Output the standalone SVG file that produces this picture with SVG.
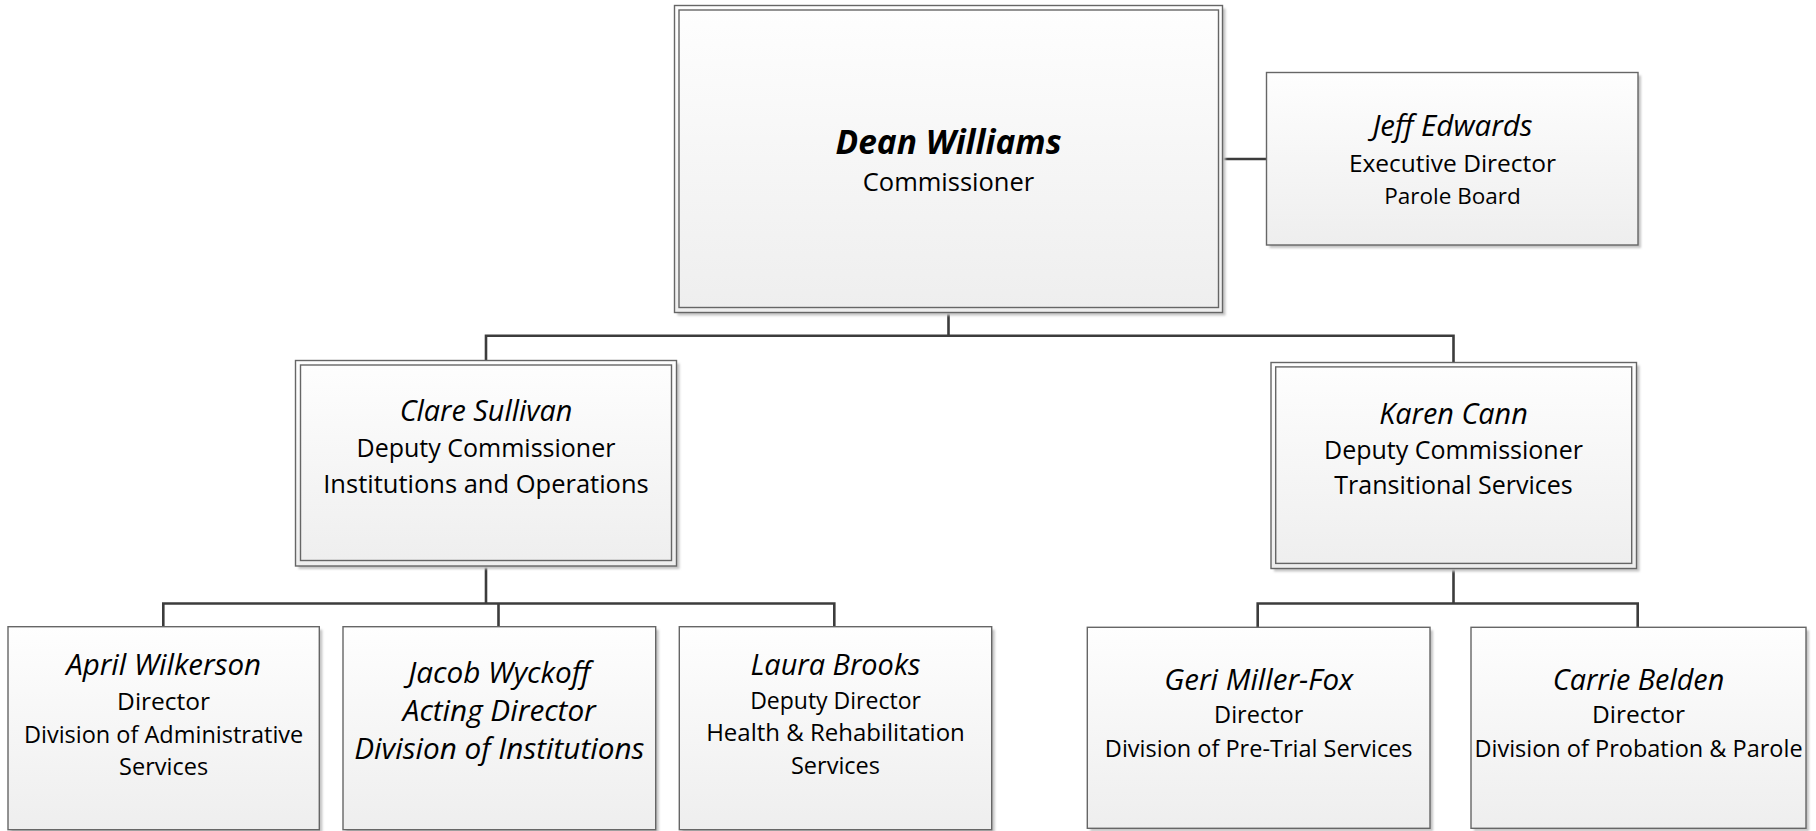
<svg xmlns="http://www.w3.org/2000/svg" width="1816" height="831" viewBox="0 0 1816 831">
<defs>
<linearGradient id="fill" x1="0" y1="0" x2="0" y2="1">
<stop offset="0" stop-color="#fefefe"/>
<stop offset="1" stop-color="#eeeeee"/>
</linearGradient>
<filter id="blur" x="-5%" y="-5%" width="110%" height="110%"><feGaussianBlur stdDeviation="1.2"/></filter>
</defs>
<style>
.sh{fill:#c4c4c4;filter:url(#blur)}
.bx{fill:url(#fill);stroke:#666666;stroke-width:1.4}
.in{fill:none;stroke:#666666;stroke-width:1.4}
.c{fill:none;stroke:#3c3c3c;stroke-width:2.6}
text{font-family:"Open Sans","Noto Sans","Liberation Sans",sans-serif;fill:#000;text-anchor:middle}
.n{font-style:italic}
.b{font-style:italic;font-weight:bold}
</style>
<rect width="1816" height="831" fill="#ffffff"/>
<g id="connectors">
<path class="c" d="M948.5 312.3V335.8M486 335.8H1453.5M486 334.5V360M1453.5 334.5V362.3"/>
<path class="c" d="M1222.9 159H1266.7"/>
<path class="c" d="M486 566V603.5M163.3 603.5H834.3M163.3 602.2V626.7M498.5 602.2V626.7M834.3 602.2V626.7"/>
<path class="c" d="M1453.5 568.3V603.5M1257.7 603.5H1637.7M1257.7 602.2V627.3M1637.7 602.2V627.3"/>
</g>
<g id="dean">
<rect class="sh" x="677.5" y="8.5" width="548" height="307"/>
<rect class="bx" x="674.5" y="5.5" width="548" height="307"/>
<rect class="in" x="679" y="10" width="539.5" height="297.5"/>
<text class="b" x="948.5" y="153.8" font-size="33.5">Dean Williams</text>
<text x="948.5" y="190.7" font-size="25.5">Commissioner</text>
</g>
<g id="jeff">
<rect class="sh" x="1269.5" y="75.5" width="371.5" height="172.5"/>
<rect class="bx" x="1266.5" y="72.5" width="371.5" height="172.5"/>
<text class="n" x="1452.5" y="135.5" font-size="29.5">Jeff Edwards</text>
<text x="1452.5" y="171.5" font-size="24.5">Executive Director</text>
<text x="1452.5" y="203.7" font-size="22.5">Parole Board</text>
</g>
<g id="clare">
<rect class="sh" x="298.5" y="363.5" width="381" height="205.5"/>
<rect class="bx" x="295.5" y="360.5" width="381" height="205.5"/>
<rect class="in" x="300.5" y="365" width="371" height="195.5"/>
<text class="n" x="486" y="421" font-size="28.8">Clare Sullivan</text>
<text x="486" y="456.7" font-size="25">Deputy Commissioner</text>
<text x="486" y="492.5" font-size="25.5">Institutions and Operations</text>
</g>
<g id="karen">
<rect class="sh" x="1274" y="365.5" width="365.5" height="206"/>
<rect class="bx" x="1271" y="362.5" width="365.5" height="206"/>
<rect class="in" x="1275.7" y="366.9" width="356" height="196.5"/>
<text class="n" x="1453.5" y="423.5" font-size="28.8">Karen Cann</text>
<text x="1453.5" y="459" font-size="25">Deputy Commissioner</text>
<text x="1453.5" y="493.8" font-size="25">Transitional Services</text>
</g>
<g id="april">
<rect class="sh" x="11" y="629.7" width="311.3" height="203"/>
<rect class="bx" x="8" y="626.7" width="311.3" height="203"/>
<text class="n" x="163.6" y="675" font-size="29.5">April Wilkerson</text>
<text x="163.6" y="710.3" font-size="24.5">Director</text>
<text x="163.6" y="743.2" font-size="23.5">Division of Administrative</text>
<text x="163.6" y="775" font-size="23.5">Services</text>
</g>
<g id="jacob">
<rect class="sh" x="346" y="629.7" width="312.7" height="203"/>
<rect class="bx" x="343" y="626.7" width="312.7" height="203"/>
<text class="n" x="499.3" y="682.5" font-size="29.7">Jacob Wyckoff</text>
<text class="n" x="499.3" y="720.5" font-size="29.7">Acting Director</text>
<text class="n" x="499.3" y="759" font-size="29.7">Division of Institutions</text>
</g>
<g id="laura">
<rect class="sh" x="682.3" y="629.7" width="312.4" height="203"/>
<rect class="bx" x="679.3" y="626.7" width="312.4" height="203"/>
<text class="n" x="835.5" y="675.3" font-size="28.9">Laura Brooks</text>
<text x="835.5" y="709.3" font-size="23">Deputy Director</text>
<text x="835.5" y="741.2" font-size="24">Health &amp; Rehabilitation</text>
<text x="835.5" y="774" font-size="23.5">Services</text>
</g>
<g id="geri">
<rect class="sh" x="1090.3" y="630.3" width="342.7" height="201"/>
<rect class="bx" x="1087.3" y="627.3" width="342.7" height="201"/>
<text class="n" x="1258.7" y="690" font-size="29.5">Geri Miller-Fox</text>
<text x="1258.7" y="723" font-size="23.5">Director</text>
<text x="1258.7" y="756.5" font-size="23.5">Division of Pre-Trial Services</text>
</g>
<g id="carrie">
<rect class="sh" x="1474" y="630.3" width="335" height="201"/>
<rect class="bx" x="1471" y="627.3" width="335" height="201"/>
<text class="n" x="1638.5" y="689.5" font-size="28.8">Carrie Belden</text>
<text x="1638.5" y="723" font-size="24.5">Director</text>
<text x="1638.5" y="756.5" font-size="23.5">Division of Probation &amp; Parole</text>
</g>
</svg>
